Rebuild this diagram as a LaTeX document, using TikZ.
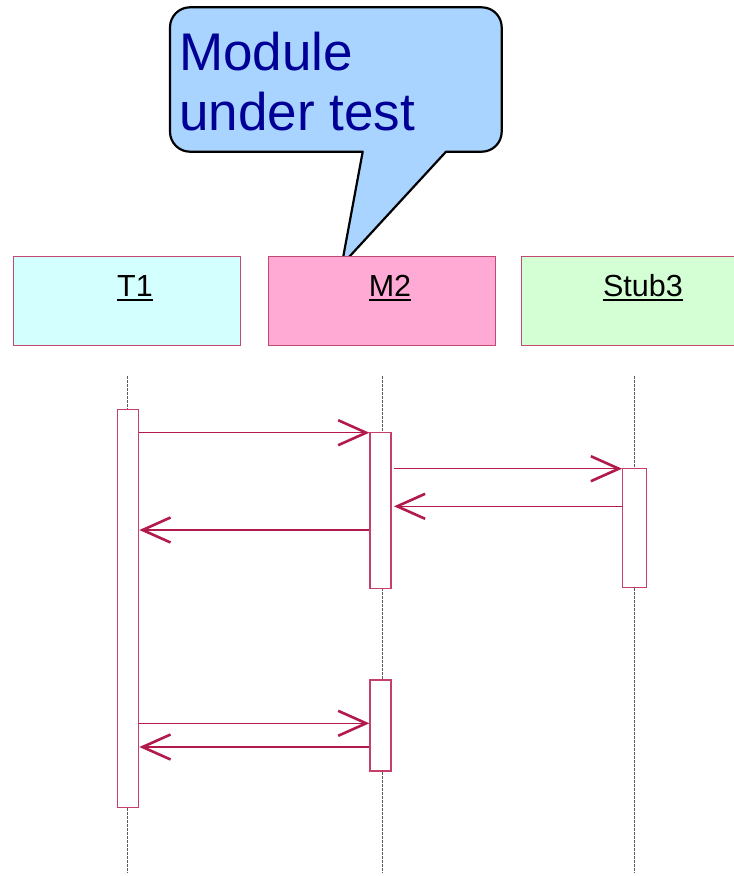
\documentclass[tikz,border=0pt]{standalone}
\usepackage{fontspec}
\setmainfont{Liberation Sans}
\newsavebox\ulbox
\newcommand\myul[1]{\sbox\ulbox{#1}\rlap{\rule[-4.8pt]{\wd\ulbox}{2.4pt}}\usebox\ulbox}
\usetikzlibrary{arrows.meta}
\definecolor{crim}{RGB}{178,26,76}
\definecolor{actline}{RGB}{196,64,104}
\definecolor{hdrline}{RGB}{196,72,112}
\definecolor{tfill}{RGB}{212,255,255}
\definecolor{mfill}{RGB}{255,170,212}
\definecolor{sfill}{RGB}{212,255,212}
\definecolor{callfill}{RGB}{168,212,255}
\definecolor{calltext}{RGB}{0,0,150}
\definecolor{lifegray}{RGB}{90,90,90}
\begin{document}
\begin{tikzpicture}[x=1pt,y=-1pt,
  hdr/.style={draw=hdrline, line width=0.9pt, minimum width=227pt, inner xsep=0pt, inner ysep=0pt,
     text height=40pt, text depth=49pt, anchor=north, font=\fontsize{30.5}{36}\selectfont},
  act/.style={draw=actline, fill=white, line width=1.3pt, inner sep=0pt},
  life/.style={draw=lifegray, line width=0.8pt, dash pattern=on 2.5pt off 1.5pt},
  msg/.style={draw=crim, line width=1.4pt, -{Straight Barb[length=28pt,width=25pt,line width=2.6pt]}}
]
\useasboundingbox (0,0) rectangle (734,876);

% callout
\draw[fill=callfill, line width=2.2pt, line join=round]
  (446,151.7) [rounded corners=20pt] -- (501.7,151.7) -- (501.7,7.3) -- (170,7.3) -- (170,151.7)
  [sharp corners] -- (362.7,151.7) -- (341.7,265) -- cycle;
\node[anchor=base west, align=left, inner sep=0pt, text=calltext,
      font=\fontsize{53}{60}\selectfont] (calltxt) at (179,130) {Module\\under test};

% headers
\node[hdr, fill=tfill] (t1) at (126.5,256) {\hspace*{17pt}\myul{T1}};
\node[hdr, fill=mfill] (m2) at (381.5,256) {\hspace*{17pt}\myul{M2}};
\node[hdr, fill=sfill] (s3) at (634.5,256) {\hspace*{17pt}\myul{Stub3}};

% lifelines
\coordinate (t1top) at (127,376);  \coordinate (t1bot) at (127,873);
\coordinate (m2top) at (382,376);  \coordinate (m2bot) at (382,873);
\coordinate (s3top) at (634,376);  \coordinate (s3bot) at (634,873);
\draw[life] (t1top) -- (t1bot);
\draw[life] (m2top) -- (m2bot);
\draw[life] (s3top) -- (s3bot);

% activations
\node[act, minimum width=21.4pt, minimum height=398.4pt] (t1a) at (128,608.5) {};
\node[act, minimum width=21pt, minimum height=155.6pt] (m2a) at (380.5,510.5) {};
\node[act, minimum width=23.6pt, minimum height=118.6pt] (s3a) at (634.5,528) {};
\node[act, minimum width=21pt, minimum height=91pt] (m2b) at (380.5,725.5) {};

% messages
\draw[msg] (t1a.east |- 0,432.7) -- (m2a.west |- 0,432.7);
\draw[msg] ([xshift=2.5pt]m2a.east |- 0,468.7) -- (s3a.west |- 0,468.7);
\draw[msg] (s3a.west |- 0,506.3) -- ([xshift=2.3pt]m2a.east |- 0,506.3);
\draw[msg] (m2a.west |- 0,530) -- (t1a.east |- 0,530);
\draw[msg] (t1a.east |- 0,723.3) -- (m2b.west |- 0,723.3);
\draw[msg] (m2b.west |- 0,747) -- (t1a.east |- 0,747);
\end{tikzpicture}
\end{document}
